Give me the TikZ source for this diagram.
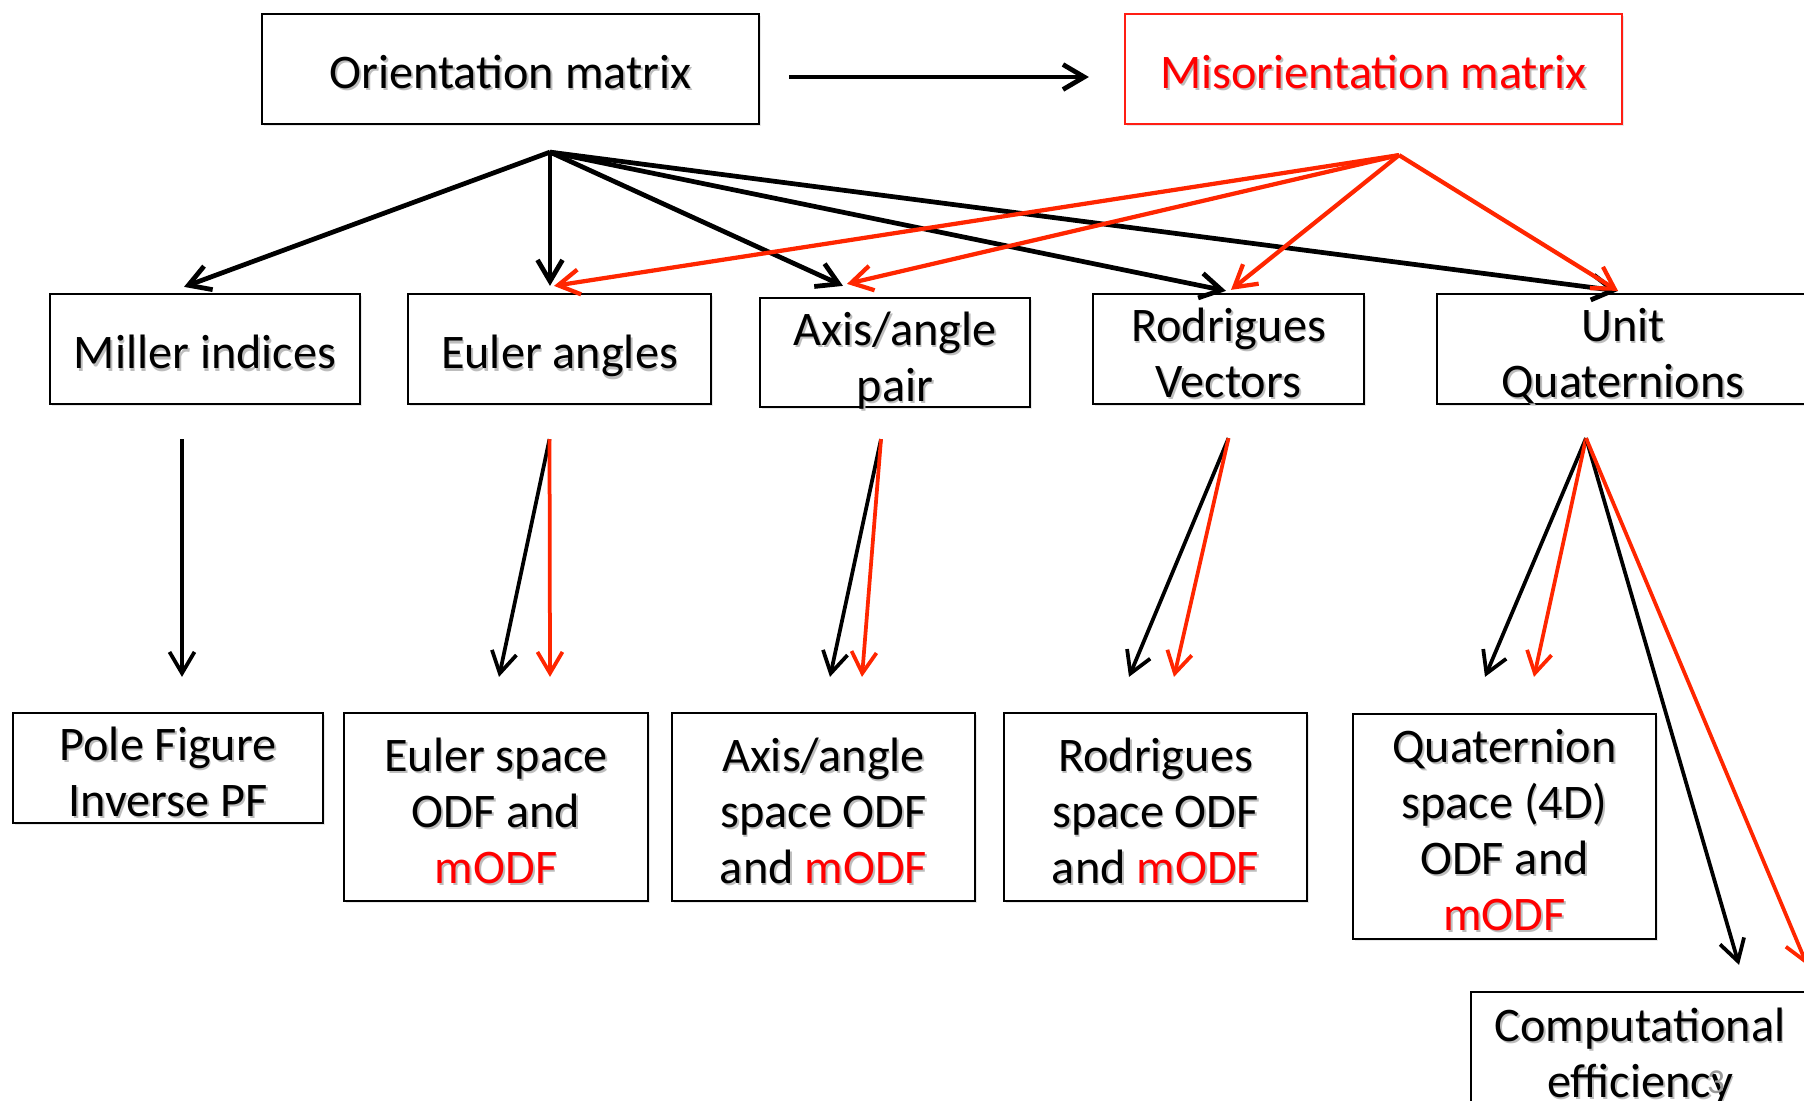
\documentclass[tikz,border=0pt]{standalone}
\usepackage{fontspec}
\setmainfont{Carlito}
\usetikzlibrary{arrows.meta,shadows}

\definecolor{linered}{RGB}{255,38,0}
\definecolor{textred}{RGB}{255,0,0}
\definecolor{boxred}{RGB}{255,30,20}

% text with a soft grey shadow behind it
\newcommand\shd[2][black]{\leavevmode\rlap{\kern0.7pt\raisebox{-0.9pt}{\textcolor{black!26}{#2}}}\textcolor{#1}{#2}}
% centred lines, baseline on the first line
\newcommand\lines[1]{\begin{tabular}[t]{@{}c@{}}#1\end{tabular}}

\tikzset{
  box/.style={draw=black, line width=0.9pt, fill=white, inner sep=0pt,
    font=\fontsize{19.3}{22.4}\selectfont,
    drop shadow={shadow xshift=0.8pt, shadow yshift=-0.8pt, opacity=0.18}},
  redbox/.style={box, draw=boxred},
  sz/.style 2 args={minimum width=#1*0.4pt, minimum height=#2*0.4pt},
  tb/.style 2 args={text height=#1, text depth=#2},
  tip/.style={-{Straight Barb[length=8.5pt,width=10pt]}},
  blkup/.style={tip, draw=black, line width=1.9pt},
  redup/.style={tip, draw=linered, line width=1.7pt},
  blklow/.style={tip, draw=black, line width=1.5pt},
  redlow/.style={tip, draw=linered, line width=1.5pt},
}

\begin{document}
\begin{tikzpicture}[x=0.4pt, y=-0.4pt]
\useasboundingbox (0,0) rectangle (1804,1100);

% top row
\node[box, sz={497}{110}, tb={15.5pt}{0pt}] (orient) at (510.5,69) {\shd{Orientation matrix}};
\node[redbox, sz={497}{110}, tb={15.5pt}{0pt}] (misor) at (1373.5,69) {\shd[textred]{Misorientation matrix}};

% representations
\node[box, sz={310}{110}, tb={15.8pt}{0pt}] (miller) at (205,349) {\shd{Miller indices}};
\node[box, sz={303}{110}, tb={15.8pt}{0pt}] (euler) at (559.5,349) {\shd{Euler angles}};
\node[box, sz={270}{109}, tb={0pt}{5.8pt}] (axis) at (895,352.5) {\lines{\shd{Axis/angle}\\\shd{pair}}};
\node[box, sz={271}{110}, tb={0pt}{6pt}] (rodr) at (1228.5,349) {\lines{\shd{Rodrigues}\\\shd{Vectors}}};
\node[box, sz={372}{110}, tb={0pt}{6pt}] (unitq) at (1623,349) {\lines{\shd{Unit}\\\shd{Quaternions}}};

% spaces
\node[box, sz={310}{110}, tb={0pt}{6.2pt}] (pole) at (168,768) {\lines{\shd{Pole Figure}\\\shd{Inverse PF}}};
\node[box, sz={304}{188}, tb={0pt}{28.6pt}] (eulsp) at (496,807) {\lines{\shd{Euler space}\\\shd{ODF and}\\\shd[textred]{mODF}}};
\node[box, sz={303}{188}, tb={0pt}{28.6pt}] (axsp) at (823.5,807) {\lines{\shd{Axis/angle}\\\shd{space ODF}\\\shd{and}\ \shd[textred]{mODF}}};
\node[box, sz={303}{188}, tb={0pt}{28.6pt}] (rodsp) at (1155.5,807) {\lines{\shd{Rodrigues}\\\shd{space ODF}\\\shd{and}\ \shd[textred]{mODF}}};
\node[box, sz={303}{225}, tb={0pt}{51.2pt}] (quatsp) at (1504.5,826.5) {\lines{\shd{Quaternion}\\\shd{space (4D)}\\\shd{ODF and}\\\shd[textred]{mODF}}};
\node[box, sz={338}{124}, tb={0pt}{10pt}] (comp) at (1640,1054) {\lines{\shd{Computational}\\\shd{efficiency}}};

\node[font=\fontsize{14}{14}\selectfont, text=black!40, inner sep=0pt] (pagenum) at (1716,1082) {3};

% hubs
\coordinate (ohub) at ([shift={(39.5,27)}]orient.south);
\coordinate (mhub) at ([shift={(25.5,30)}]misor.south);
\coordinate (millerS) at ([shift={(-23,34)}]miller.south);
\coordinate (eulerS) at ([shift={(-10,34)}]euler.south);
\coordinate (axisS) at ([shift={(-14,31)}]axis.south);
\coordinate (rodrS) at ([shift={(0,33)}]rodr.south);
\coordinate (unitqS) at ([shift={(-37,33)}]unitq.south);

% orientation -> misorientation
\draw[blkup] ([shift={(29,8)}]orient.east) -- ([shift={(-35,8)}]misor.west);

% orientation matrix to representations
\draw[blkup] (ohub) -- ([shift={(-21,-6)}]miller.north);
\draw[blkup] (ohub) -- ([shift={(-9.5,-7)}]euler.north);
\draw[blkup] (ohub) -- ([shift={(-52,-11)}]axis.north);
\draw[blkup] (ohub) -- ([shift={(-2.5,-2)}]rodr.north);
\draw[blkup] (ohub) -- ([shift={(-5,-2)}]unitq.north);

% misorientation matrix to representations
\draw[redup] (mhub) -- ([shift={(-5.5,-7)}]euler.north);
\draw[redup] (mhub) -- ([shift={(-48,-13)}]axis.north);
\draw[redup] (mhub) -- ([shift={(2.5,-3)}]rodr.north);
\draw[redup] (mhub) -- ([shift={(-5,-2)}]unitq.north);

% representations to spaces
\draw[blklow] (millerS) -- ([shift={(14,-35)}]pole.north);
\draw[blklow] (eulerS) -- ([shift={(3,-35)}]eulsp.north);
\draw[redlow] (eulerS) -- ([shift={(54,-35)}]eulsp.north);
\draw[blklow] (axisS) -- ([shift={(6.5,-35)}]axsp.north);
\draw[redlow] (axisS) -- ([shift={(38.5,-35)}]axsp.north);
\draw[blklow] (rodrS) -- ([shift={(-26.5,-35)}]rodsp.north);
\draw[redlow] (rodrS) -- ([shift={(18.5,-35)}]rodsp.north);
\draw[blklow] (unitqS) -- ([shift={(-19.5,-36)}]quatsp.north);
\draw[redlow] (unitqS) -- ([shift={(29.5,-36)}]quatsp.north);
\draw[blklow] (unitqS) -- ([shift={(99,-26)}]comp.north);
\draw[redlow] (unitqS) -- ([shift={(167,-26)}]comp.north);
\end{tikzpicture}
\end{document}
